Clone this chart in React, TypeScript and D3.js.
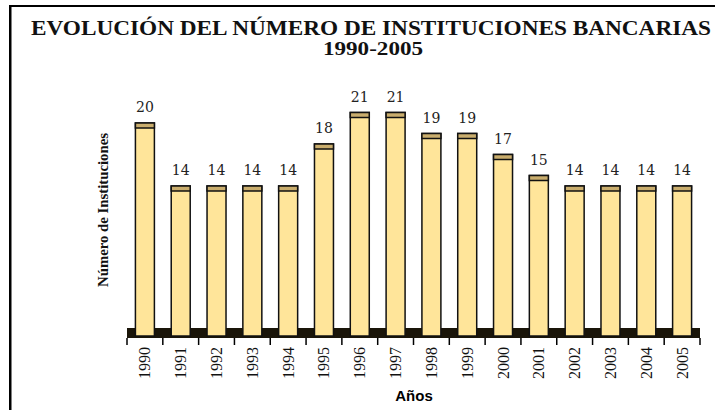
import { useEffect, useRef } from 'react';
import * as d3 from 'd3';

const years = ['1990', '1991', '1992', '1993', '1994', '1995', '1996', '1997',
  '1998', '1999', '2000', '2001', '2002', '2003', '2004', '2005'];
const instituciones = [20, 14, 14, 14, 14, 18, 21, 21, 19, 19, 17, 15, 14, 14, 14, 14];

const title = 'EVOLUCIÓN DEL NÚMERO DE INSTITUCIONES BANCARIAS';
const subtitle = '1990-2005';
const yLabel = 'Número de Instituciones';
const xLabel = 'Años';

const serif = '"Liberation Serif", "Times New Roman", serif';

const App = () => {
  const svgRef = useRef<SVGSVGElement | null>(null);

  useEffect(() => {
    const width = 715;
    const height = 410;
    const svg = d3.select(svgRef.current)
      .attr('width', width)
      .attr('height', height);
    svg.selectAll('*').remove();

    const data = years.map((y, i) => ({ year: y, value: instituciones[i] }));

    // frame (only top and left edges visible)
    svg.append('rect').attr('x', 9).attr('y', 5).attr('width', width).attr('height', 2).attr('fill', '#000');
    svg.append('rect').attr('x', 9).attr('y', 5).attr('width', 2.5).attr('height', height).attr('fill', '#000');

    svg.append('text')
      .attr('x', 31).attr('y', 34.5)
      .attr('textLength', 680)
      .attr('lengthAdjust', 'spacingAndGlyphs')
      .attr('font-family', serif)
      .attr('font-weight', 'bold')
      .attr('font-size', 20)
      .attr('fill', '#111')
      .text(title);

    svg.append('text')
      .attr('x', 323).attr('y', 54.5)
      .attr('textLength', 100)
      .attr('lengthAdjust', 'spacingAndGlyphs')
      .attr('font-family', serif)
      .attr('font-weight', 'bold')
      .attr('font-size', 18)
      .attr('fill', '#111')
      .text(subtitle);

    const x = d3.scaleBand()
      .domain(years)
      .range([127, 700])
      .paddingInner(0.47)
      .paddingOuter(0.235);

    const y = d3.scaleLinear()
      .domain([0, 22])
      .range([333, 333 - 22 * 10.5]);

    const floorTop = 328;
    const floorBottom = 338;

    // floor
    svg.append('rect')
      .attr('x', 127).attr('y', floorTop)
      .attr('width', 700 - 127).attr('height', floorBottom - floorTop)
      .attr('fill', '#1a1509');

    // ticks on category boundaries
    const step = x.step();
    const offset = (step - x.bandwidth()) / 2;
    const tickXs = years.map(d => (x(d) ?? 0) - offset).concat([(x(years[years.length - 1]) ?? 0) + x.bandwidth() + offset]);
    svg.append('g')
      .selectAll('line')
      .data(tickXs)
      .enter().append('line')
      .attr('x1', d => d).attr('x2', d => d)
      .attr('y1', floorBottom).attr('y2', floorBottom + 7)
      .attr('stroke', '#000')
      .attr('stroke-width', 1.5);

    const bars = svg.append('g').selectAll('g').data(data).enter().append('g');

    bars.append('rect')
      .attr('x', d => x(d.year) ?? 0)
      .attr('y', d => y(d.value))
      .attr('width', x.bandwidth())
      .attr('height', d => floorBottom - 2 - y(d.value))
      .attr('fill', '#ffe59a')
      .attr('stroke', '#111')
      .attr('stroke-width', 1.5);

    bars.append('rect')
      .attr('x', d => x(d.year) ?? 0)
      .attr('y', d => y(d.value))
      .attr('width', x.bandwidth())
      .attr('height', 5)
      .attr('fill', '#c9ad6d')
      .attr('stroke', '#111')
      .attr('stroke-width', 1.5);

    bars.append('text')
      .attr('x', d => (x(d.year) ?? 0) + x.bandwidth() / 2)
      .attr('y', d => y(d.value) - 11)
      .attr('text-anchor', 'middle')
      .attr('font-family', 'DejaVu Serif')
      .attr('font-size', 14)
      .attr('fill', '#222')
      .text(d => d.value);

    // rotated year labels
    svg.append('g')
      .selectAll('text')
      .data(years)
      .enter().append('text')
      .attr('transform', d => `translate(${(x(d) ?? 0) + x.bandwidth() / 2 + 5.5},347) rotate(-90)`)
      .attr('text-anchor', 'end')
      .attr('font-family', serif)
      .attr('font-size', 16)
      .attr('fill', '#111')
      .text(d => d);

    svg.append('text')
      .attr('x', 414).attr('y', 401)
      .attr('text-anchor', 'middle')
      .attr('font-family', '"Liberation Sans", Arial, sans-serif')
      .attr('font-weight', 'bold')
      .attr('font-size', 15)
      .text(xLabel);

    svg.append('text')
      .attr('transform', 'translate(108,210) rotate(-90)')
      .attr('text-anchor', 'middle')
      .attr('textLength', 154)
      .attr('lengthAdjust', 'spacingAndGlyphs')
      .attr('font-family', serif)
      .attr('font-weight', 'bold')
      .attr('font-size', 14)
      .attr('fill', '#111')
      .text(yLabel);
  }, []);

  return (
    <div style={{ position: 'absolute', left: 0, top: 0, background: '#fff' }}>
      <svg ref={svgRef} style={{ display: 'block' }}></svg>
    </div>
  );
};

export default App;
